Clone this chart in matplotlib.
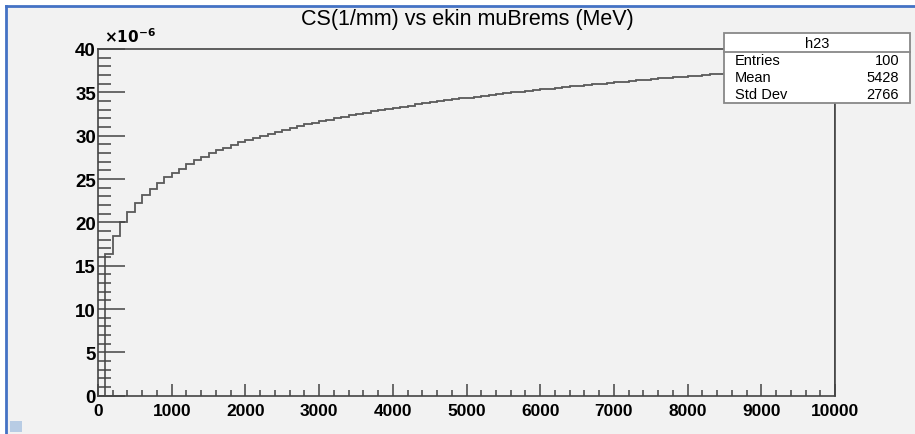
import numpy as np
import matplotlib
matplotlib.use("Agg")
import matplotlib.pyplot as plt
from matplotlib.patches import Rectangle
from matplotlib.lines import Line2D
from matplotlib.ticker import MultipleLocator

plt.rcParams['font.family'] = ['Liberation Sans', 'DejaVu Sans']

# ---- data, units of 1e-6 per mm ----
bin_edges_start = 0
bin_edges_stop = 10000
n_bins = 100
cs_values = [
    0.00, 16.34, 18.46, 20.07, 21.22, 22.22, 23.15, 23.84, 24.50, 25.19,
    25.69, 26.20, 26.70, 27.20, 27.56, 27.96, 28.30, 28.62, 28.93, 29.22,
    29.49, 29.76, 30.01, 30.25, 30.47, 30.69, 30.91, 31.11, 31.31, 31.50,
    31.68, 31.86, 32.03, 32.20, 32.36, 32.51, 32.67, 32.82, 32.96, 33.10,
    33.23, 33.36, 33.48, 33.61, 33.73, 33.85, 33.96, 34.07, 34.18, 34.29,
    34.40, 34.50, 34.60, 34.70, 34.80, 34.90, 34.99, 35.09, 35.18, 35.27,
    35.36, 35.44, 35.53, 35.61, 35.70, 35.78, 35.86, 35.94, 36.01, 36.09,
    36.17, 36.24, 36.31, 36.39, 36.46, 36.53, 36.60, 36.67, 36.74, 36.80,
    36.87, 36.93, 37.00, 37.06, 37.13, 37.19, 37.25, 37.31, 37.37, 37.43,
    37.49, 37.55, 37.61, 37.66, 37.72, 37.78, 37.83, 37.89, 37.94, 37.99,
]
title_text = "CS(1/mm) vs ekin muBrems (MeV)"
stats_name = "h23"
stats_labels = ["Entries", "Mean", "Std Dev"]
stats_values = ["100", "5428", "2766"]

W, H = 915, 435
fig = plt.figure(figsize=(W / 100, H / 100), dpi=100, facecolor='white')

def fx(px):
    return px / W

def fy(py):
    return 1 - py / H

bg = '#f2f2f2'
# canvas background + blue border (top/left)
fig.add_artist(Rectangle((fx(6), 0), 1 - fx(6), fy(7), transform=fig.transFigure,
                         facecolor=bg, edgecolor='none', zorder=0))
fig.add_artist(Line2D([fx(6), 1], [fy(7), fy(7)], transform=fig.transFigure,
                      color='#4472c4', lw=2, zorder=1))
fig.add_artist(Line2D([fx(6), fx(6)], [0, fy(7)], transform=fig.transFigure,
                      color='#4472c4', lw=2, zorder=1))
fig.add_artist(Rectangle((fx(10), fy(433)), fx(12), 11 / H, transform=fig.transFigure,
                         facecolor='#b8cce4', edgecolor='none', zorder=1))

ax = fig.add_axes([fx(98), fy(396.7), fx(835) - fx(98), fy(50) - fy(396.7)])
ax.set_facecolor(bg)

edges = np.linspace(bin_edges_start, bin_edges_stop, n_bins + 1)
ax.stairs(np.array(cs_values), edges, baseline=0, color='#5a5a5a', lw=1.3)

ax.set_xlim(0, 10000)
ax.set_ylim(0, 40)
ax.xaxis.set_major_locator(MultipleLocator(1000))
ax.xaxis.set_minor_locator(MultipleLocator(200))
ax.yaxis.set_major_locator(MultipleLocator(5))
ax.yaxis.set_minor_locator(MultipleLocator(1))

for s in ax.spines.values():
    s.set_color('#444444')
    s.set_linewidth(1.2)

ax.tick_params(axis='both', which='both', direction='in', colors='#444444',
               labelcolor='black', width=1.1, top=False, right=False)
ax.tick_params(axis='y', which='major', length=19.5, pad=1.5)
ax.tick_params(axis='y', which='minor', length=9.5)
ax.tick_params(axis='x', which='major', length=8.5, pad=5)
ax.tick_params(axis='x', which='minor', length=4.3)
for lab in ax.get_xticklabels():
    lab.set_fontweight('bold')
    lab.set_fontsize(12.5)
for lab in ax.get_yticklabels():
    lab.set_fontweight('bold')
    lab.set_fontsize(13.5)

ax.text(0.008, 1.012, r'$\mathbf{\times 10^{-6}}$', transform=ax.transAxes,
        fontsize=11, ha='left', va='bottom', fontweight='bold')

fig.text(fx(467), fy(20), title_text, ha='center', va='center', fontsize=15.5)

# stats box
bx0, bx1, by0, by1, bym = 724, 910, 34.3, 104.3, 53.3
fig.add_artist(Rectangle((fx(bx0), fy(by1)), fx(bx1) - fx(bx0), fy(by0) - fy(by1),
                         transform=fig.transFigure, facecolor='white',
                         edgecolor='#888888', lw=1.3, zorder=10))
fig.add_artist(Line2D([fx(bx0), fx(bx1)], [fy(bym), fy(bym)], transform=fig.transFigure,
                      color='#888888', lw=1.3, zorder=11))
fig.text(fx((bx0 + bx1) / 2), fy(43.5), stats_name, ha='center', va='center',
         fontsize=10.5, zorder=12)
rows_y = [61, 78, 95]
for lab, val, yy in zip(stats_labels, stats_values, rows_y):
    fig.text(fx(735), fy(yy), lab, ha='left', va='center', fontsize=10.5, zorder=12)
    fig.text(fx(899), fy(yy), val, ha='right', va='center', fontsize=10.5, zorder=12)

fig.savefig('out.png', dpi=100, facecolor=fig.get_facecolor())
